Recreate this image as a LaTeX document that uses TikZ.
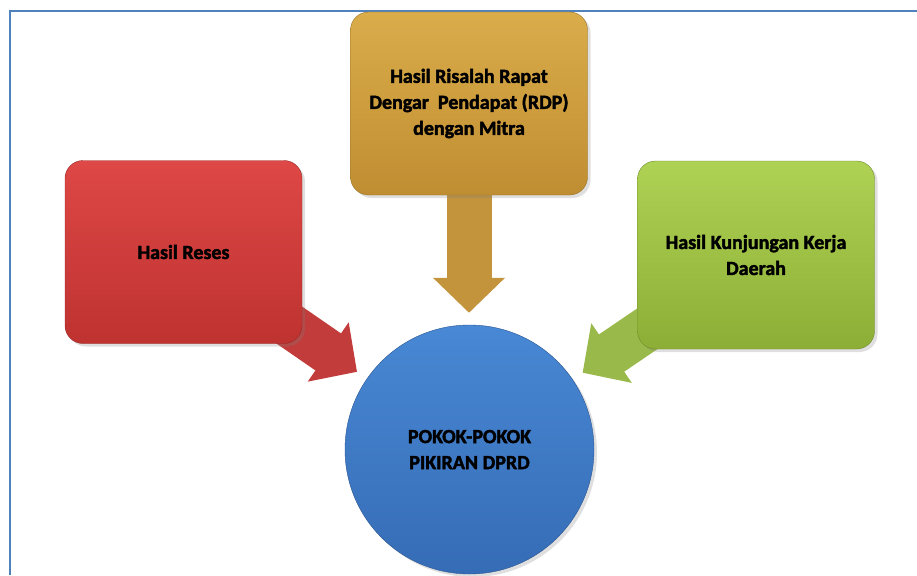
\documentclass[tikz,border=0pt]{standalone}
\usepackage{fontspec}
\setmainfont{Carlito}[BoldFeatures={FakeBold=2}]
\usepackage{tikz}
\usetikzlibrary{arrows.meta,shadows,backgrounds}

\definecolor{frameblue}{RGB}{79,129,189}
\definecolor{resestop}{RGB}{222,72,70}
\definecolor{resesbot}{RGB}{190,50,48}
\definecolor{rdptop}{RGB}{218,172,74}
\definecolor{rdpbot}{RGB}{192,142,50}
\definecolor{kunjtop}{RGB}{174,210,84}
\definecolor{kunjbot}{RGB}{140,174,54}
\definecolor{pokoktop}{RGB}{72,136,212}
\definecolor{pokokbot}{RGB}{54,108,182}

\begin{document}
\begin{tikzpicture}[
    x=1pt, y=-1pt,
    box/.style={rounded corners=18pt, minimum width=237pt, minimum height=183pt,
        align=center, font=\fontsize{20}{26}\selectfont\bfseries,
        drop shadow={shadow xshift=3pt, shadow yshift=-3pt, opacity=0.25}},
    bigarr/.style={line width=45pt, -{Triangle[width=70pt, length=35pt]}, shorten >=12pt}
]
    \useasboundingbox (0,0) rectangle (917,575);

    % frame
    \draw[frameblue, line width=2pt] (10,575) -- (10,11.5) -- (917,11.5);

    % Reses
    \node[box, top color=resestop, bottom color=resesbot, draw=resesbot!80!black] (reses) at (183.5,252) {Hasil Reses};

    % RDP
    \node[box, top color=rdptop, bottom color=rdpbot, draw=rdpbot!80!black] (rdp) at (469,103.5) {Hasil Risalah Rapat\\Dengar\ \ Pendapat (RDP)\\dengan Mitra};

    % Kunjungan kerja
    \node[box, minimum height=188pt, top color=kunjtop, bottom color=kunjbot, draw=kunjbot!80!black] (kunjungan) at (756,255) {Hasil Kunjungan Kerja\\Daerah};

    % Pokok pikiran
    \node[circle, minimum size=249pt, align=center, font=\fontsize{20}{26}\selectfont\bfseries,
        top color=pokoktop, bottom color=pokokbot, draw=pokokbot!80!black,
        drop shadow={shadow xshift=3pt, shadow yshift=-3pt, opacity=0.25}] (pokok) at (469.5,449.5) {POKOK-POKOK\\PIKIRAN DPRD};

    % Arrows
    \begin{scope}[on background layer]
        \draw[bigarr, color=resesbot!95!white] (reses.center) -- (pokok);
        \draw[bigarr, color=rdpbot!95!white] (rdp.center) -- (rdp.center |- pokok.north);
        \draw[bigarr, color=kunjtop!88!black] (kunjungan.center) -- (pokok);
    \end{scope}
\end{tikzpicture}
\end{document}
